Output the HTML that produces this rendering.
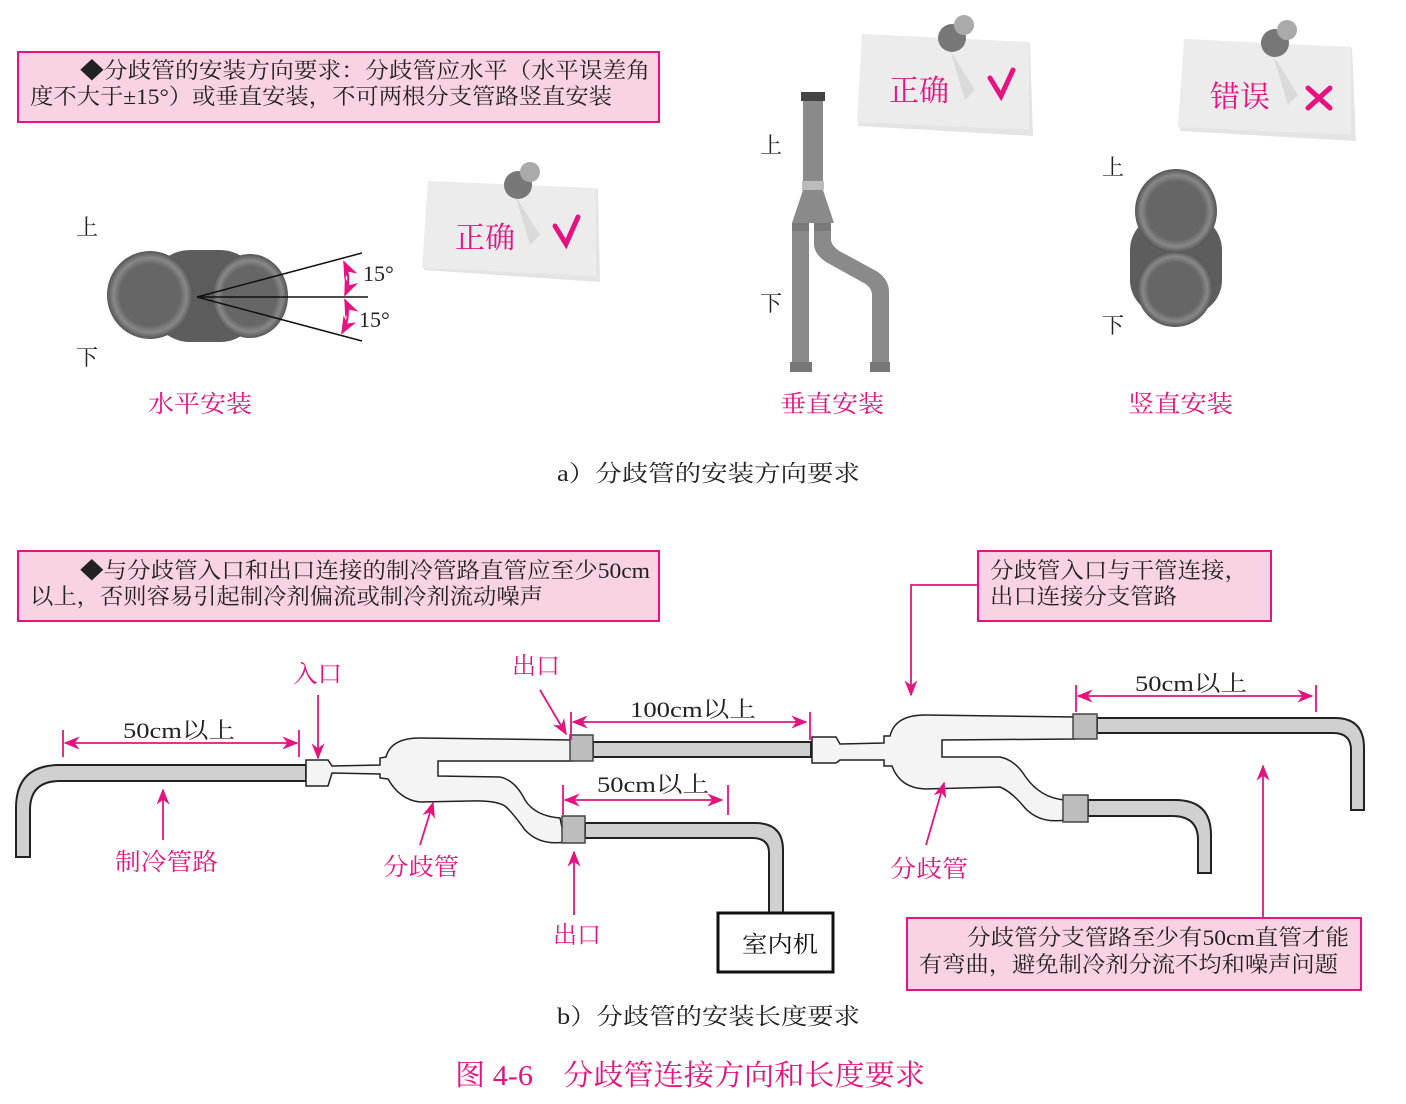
<!DOCTYPE html>
<html><head><meta charset="utf-8"><style>
html,body{margin:0;padding:0;background:#fff}
svg{display:block}
text{font-family:"Liberation Serif","Noto Serif CJK SC",serif}
</style></head><body>
<svg width="1406" height="1104" viewBox="0 0 1406 1104" xmlns="http://www.w3.org/2000/svg">
<defs>
<marker id="ah" viewBox="0 0 10 10" refX="9" refY="5" markerWidth="9" markerHeight="9" orient="auto-start-reverse"><path d="M0,1 L10,5 L0,9 L3,5 z" fill="#e6127f"/></marker>
<radialGradient id="rg" cx="0.5" cy="0.5" r="0.5"><stop offset="0.7" stop-color="#666"/><stop offset="0.85" stop-color="#888"/><stop offset="1" stop-color="#555"/></radialGradient>
</defs>
<g fill="none" stroke="#e6127f" stroke-width="2">
<rect x="18" y="52" width="641" height="70" fill="#f9d3e3"/>
<rect x="18" y="551" width="641" height="70" fill="#f9d3e3"/>
<rect x="978" y="551" width="293" height="70" fill="#f9d3e3"/>
<rect x="907" y="918" width="454" height="72" fill="#f9d3e3"/>
</g>
<g font-size="22" fill="#222" lengthAdjust="spacingAndGlyphs">
<text x="80" y="78" textLength="570" lengthAdjust="spacingAndGlyphs">◆分歧管的安装方向要求：分歧管应水平（水平误差角</text>
<text x="30" y="104" textLength="582" lengthAdjust="spacingAndGlyphs">度不大于±15°）或垂直安装，不可两根分支管路竖直安装</text>
<text x="80" y="578" textLength="570" lengthAdjust="spacingAndGlyphs">◆与分歧管入口和出口连接的制冷管路直管应至少50cm</text>
<text x="30" y="604" textLength="513" lengthAdjust="spacingAndGlyphs">以上，否则容易引起制冷剂偏流或制冷剂流动噪声</text>
<text x="990" y="578" textLength="258" lengthAdjust="spacingAndGlyphs">分歧管入口与干管连接，</text>
<text x="990" y="604" textLength="187" lengthAdjust="spacingAndGlyphs">出口连接分支管路</text>
<text x="967" y="945" textLength="382" lengthAdjust="spacingAndGlyphs">分歧管分支管路至少有50cm直管才能</text>
<text x="919" y="972" textLength="419" lengthAdjust="spacingAndGlyphs">有弯曲，避免制冷剂分流不均和噪声问题</text>
</g>
<!-- notes -->
<g>
<path d="M428,181 L598,189 L600,282 L424,270 Z" fill="#e4e4e4"/>
<path d="M428,181 L596,188 L596,276 L422,268 Z" fill="#ececec"/>
<path d="M515,195 L540,235 L530,245 Z" fill="#dadada"/>
<circle cx="518" cy="185" r="14" fill="#777"/><circle cx="530" cy="172" r="10" fill="#aaa"/>
<path d="M862,34 L1030,43 L1033,136 L858,126 Z" fill="#e4e4e4"/>
<path d="M862,34 L1029,42 L1029,130 L857,122 Z" fill="#ececec"/>
<path d="M950,50 L975,90 L965,100 Z" fill="#dadada"/>
<circle cx="952" cy="38" r="14" fill="#777"/><circle cx="964" cy="25" r="10" fill="#aaa"/>
<path d="M1184,39 L1352,48 L1356,141 L1180,131 Z" fill="#e4e4e4"/>
<path d="M1184,39 L1351,47 L1351,135 L1178,127 Z" fill="#ececec"/>
<path d="M1273,55 L1298,95 L1288,105 Z" fill="#dadada"/>
<circle cx="1275" cy="43" r="14" fill="#777"/><circle cx="1287" cy="30" r="10" fill="#aaa"/>
</g>
<g fill="#e6127f" font-size="30">
<text x="455" y="248" textLength="60" lengthAdjust="spacingAndGlyphs">正确</text>
<text x="889" y="101" textLength="60" lengthAdjust="spacingAndGlyphs">正确</text>
<text x="1210" y="107" textLength="60" lengthAdjust="spacingAndGlyphs">错误</text>
</g>
<g stroke="#e6127f" stroke-width="5" fill="none" stroke-linecap="round">
<path d="M555,226 L566,244 L578,217"/>
<path d="M990,78 L1001,96 L1013,70"/>
<path d="M1308,88 L1330,108 M1330,88 L1308,108"/>
</g>
<!-- horizontal blob -->
<g>
<rect x="150" y="250" width="110" height="92" rx="40" fill="#5d5d5d"/>
<ellipse cx="250" cy="296" rx="38" ry="42" fill="url(#rg)"/>
<ellipse cx="150" cy="295" rx="43" ry="44" fill="url(#rg)"/>
</g>
<g stroke="#111" stroke-width="1.5">
<line x1="197" y1="297" x2="362" y2="253"/><line x1="197" y1="297" x2="368" y2="297"/><line x1="197" y1="297" x2="362" y2="341"/>
</g>
<g stroke="#e6127f" stroke-width="2" fill="none">
<path d="M344,262 Q352,279 345,295" marker-start="url(#ah)" marker-end="url(#ah)"/>
<path d="M345,300 Q352,315 342,333" marker-start="url(#ah)" marker-end="url(#ah)"/>
</g>
<g font-size="22" fill="#222">
<text x="363" y="281">15°</text><text x="359" y="327">15°</text>
<text x="76" y="235">上</text><text x="76" y="365">下</text>
<text x="760" y="153">上</text><text x="760" y="311">下</text>
<text x="1102" y="175">上</text><text x="1102" y="333">下</text>
</g>
<!-- vertical pipe -->
<g>
<rect x="801" y="92" width="24" height="9" fill="#444"/>
<rect x="803" y="101" width="20" height="80" fill="#8a8a8a"/>
<rect x="802" y="181" width="22" height="9" fill="#bbb"/>
<path d="M803,190 L823,190 L834,223 L792,223 Z" fill="#8a8a8a"/>
<rect x="792" y="223" width="17" height="8" fill="#7a7a7a"/><rect x="814" y="223" width="17" height="8" fill="#7a7a7a"/>
<rect x="792" y="231" width="17" height="132" fill="#8a8a8a"/>
<path d="M814,231 L831,231 L831,240 Q832,248 845,254 L878,272 Q889,280 889,292 L889,363 L872,363 L872,295 Q872,287 862,282 L826,262 Q814,254 814,244 Z" fill="#8a8a8a"/>
<rect x="790" y="362" width="22" height="10" fill="#777"/><rect x="870" y="362" width="20" height="10" fill="#777"/>
</g>
<!-- vertical blob -->
<g>
<rect x="1130" y="215" width="92" height="100" rx="35" fill="#5d5d5d"/>
<ellipse cx="1175" cy="289" rx="38" ry="38" fill="url(#rg)"/>
<ellipse cx="1176" cy="211" rx="41" ry="42" fill="url(#rg)"/>
</g>
<g fill="#e6127f" font-size="24">
<text x="148" y="412" textLength="104" lengthAdjust="spacingAndGlyphs">水平安装</text>
<text x="780" y="412" textLength="104" lengthAdjust="spacingAndGlyphs">垂直安装</text>
<text x="1128" y="412" textLength="105" lengthAdjust="spacingAndGlyphs">竖直安装</text>
<text x="293" y="682" textLength="49" lengthAdjust="spacingAndGlyphs">入口</text>
<text x="512" y="674" textLength="48" lengthAdjust="spacingAndGlyphs">出口</text>
<text x="553" y="943" textLength="48" lengthAdjust="spacingAndGlyphs">出口</text>
<text x="115" y="870" textLength="103" lengthAdjust="spacingAndGlyphs">制冷管路</text>
<text x="383" y="875" textLength="76" lengthAdjust="spacingAndGlyphs">分歧管</text>
<text x="890" y="877" textLength="78" lengthAdjust="spacingAndGlyphs">分歧管</text>
</g>
<g font-size="23" fill="#222">
<text x="557" y="481" textLength="303" lengthAdjust="spacingAndGlyphs">a）分歧管的安装方向要求</text>
<text x="557" y="1024" textLength="303" lengthAdjust="spacingAndGlyphs">b）分歧管的安装长度要求</text>
</g>
<text x="455" y="1085" font-size="29" fill="#e6127f" textLength="470" lengthAdjust="spacingAndGlyphs">图 4-6　分歧管连接方向和长度要求</text>
<!-- bottom pipes -->
<g stroke="#222" stroke-width="2" fill="#d0d0d0">
<path d="M306,765 L60,765 Q16,765 16,808 L16,857 L30,857 L30,810 Q30,781 60,781 L306,781 Z"/>
<path d="M593,742 L811,742 L811,757 L593,757 Z"/>
<path d="M585,823 L755,823 Q783,823 783,850 L783,913 L769,913 L769,853 Q769,838 752,838 L585,838 Z"/>
<path d="M1097,718 L1335,718 Q1364,718 1364,748 L1364,810 L1351,810 L1351,750 Q1351,733 1333,733 L1097,733 Z"/>
<path d="M1088,800 L1175,800 Q1211,800 1211,835 L1211,873 L1198,873 L1198,840 Q1198,816 1172,816 L1088,816 Z"/>
</g>
<g stroke="#222" stroke-width="1.5" fill="#f4f4f4">
<path d="M306,760 L328,760 L332,766 L380,765 L380,758 L386,757 Q391,738 420,738 L572,740 L572,761 L438,761 L438,776 L500,777 Q515,780 525,800 Q535,816 560,818 L565,842 Q540,846 525,830 Q512,812 505,806 Q495,800 470,801 L420,802 Q400,800 388,779 L380,778 L380,774 L332,773 L328,786 L306,786 Z"/>
<path d="M812,737 L836,737 L840,744 L884,743 L884,736 L890,736 Q895,715 925,715 L1075,717 L1075,739 L942,740 L942,757 L1000,757 Q1015,760 1025,776 Q1040,798 1065,800 L1065,820 Q1040,824 1025,808 Q1012,792 1000,787 L925,789 Q900,788 892,766 L884,766 L884,760 L840,760 L836,763 L812,763 Z"/>
</g>
<g stroke="#444" stroke-width="1.5" fill="#bdbdbd">
<rect x="570" y="735" width="23" height="26"/>
<rect x="562" y="816" width="23" height="27"/>
<rect x="1073" y="714" width="24" height="25"/>
<rect x="1063" y="795" width="25" height="27"/>
</g>
<rect x="718" y="913" width="115" height="59" fill="#fff" stroke="#111" stroke-width="3"/>
<text x="742" y="952" font-size="23" fill="#111" textLength="76" lengthAdjust="spacingAndGlyphs">室内机</text>
<!-- dimensions -->
<g stroke="#e6127f" stroke-width="1.8" fill="none">
<line x1="63" y1="730" x2="63" y2="757"/><line x1="299" y1="730" x2="299" y2="757"/>
<line x1="65" y1="743" x2="297" y2="743" marker-start="url(#ah)" marker-end="url(#ah)"/>
<line x1="571" y1="712" x2="571" y2="740"/><line x1="810" y1="712" x2="810" y2="740"/>
<line x1="573" y1="722" x2="806" y2="722" marker-start="url(#ah)" marker-end="url(#ah)"/>
<line x1="563" y1="785" x2="563" y2="815"/><line x1="728" y1="785" x2="728" y2="815"/>
<line x1="565" y1="800" x2="722" y2="800" marker-start="url(#ah)" marker-end="url(#ah)"/>
<line x1="1076" y1="685" x2="1076" y2="712"/><line x1="1316" y1="685" x2="1316" y2="712"/>
<line x1="1078" y1="696" x2="1312" y2="696" marker-start="url(#ah)" marker-end="url(#ah)"/>
<line x1="318" y1="695" x2="318" y2="758" marker-end="url(#ah)"/>
<line x1="540" y1="690" x2="566" y2="734" marker-end="url(#ah)"/>
<line x1="163" y1="840" x2="163" y2="790" marker-end="url(#ah)"/>
<line x1="420" y1="845" x2="433" y2="803" marker-end="url(#ah)"/>
<line x1="574" y1="915" x2="574" y2="852" marker-end="url(#ah)"/>
<line x1="926" y1="845" x2="944" y2="783" marker-end="url(#ah)"/>
<polyline points="978,585 911,585 911,695" marker-end="url(#ah)"/>
<line x1="1263" y1="918" x2="1263" y2="766" marker-end="url(#ah)"/>
</g>
<g font-size="22" fill="#222">
<text x="123" y="738" textLength="112" lengthAdjust="spacingAndGlyphs">50cm以上</text>
<text x="630" y="717" textLength="126" lengthAdjust="spacingAndGlyphs">100cm以上</text>
<text x="597" y="792" textLength="112" lengthAdjust="spacingAndGlyphs">50cm以上</text>
<text x="1135" y="691" textLength="112" lengthAdjust="spacingAndGlyphs">50cm以上</text>
</g>
</svg>
</body></html>
